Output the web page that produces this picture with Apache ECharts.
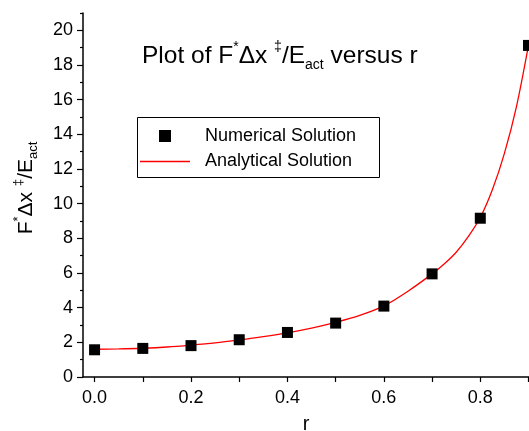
<!DOCTYPE html>
<html>
<head>
<meta charset="utf-8">
<script src="https://cdn.jsdelivr.net/npm/echarts@6/dist/echarts.min.js"></script>
<style>
  html, body { margin: 0; padding: 0; background: #fff; }
  #main { width: 529px; height: 431px; }
</style>
</head>
<body>
<div id="main"></div>
<script>
// numerical solution (squares)
const rPoints = [0, 0.1, 0.2, 0.3, 0.4, 0.5, 0.6, 0.7, 0.8, 0.9];
const numerical = [1.57, 1.65, 1.81, 2.15, 2.57, 3.11, 4.09, 5.95, 9.16, 19.13];

// analytical solution (red curve)
const rCurve = [0, 0.05, 0.1, 0.15, 0.2, 0.25, 0.3, 0.35, 0.4, 0.45, 0.5, 0.55, 0.6, 0.65, 0.7, 0.725, 0.75, 0.775, 0.8, 0.825, 0.85, 0.875, 0.9];
const analytical = [1.60, 1.62, 1.66, 1.73, 1.84, 1.97, 2.14, 2.33, 2.55, 2.82, 3.15, 3.55, 4.10, 4.95, 5.95, 6.52, 7.20, 8.10, 9.20, 10.8, 12.9, 15.6, 19.15];

// ticks
const xTicks = [0, 0.1, 0.2, 0.3, 0.4, 0.5, 0.6, 0.7, 0.8, 0.9];
const xLabels = [0, 0.2, 0.4, 0.6, 0.8];
const yMajor = [0, 2, 4, 6, 8, 10, 12, 14, 16, 18, 20];
const yMinor = [1, 3, 5, 7, 9, 11, 13, 15, 17, 19, 21];

const FONT = "'Liberation Sans', Arial, sans-serif";

const chart = echarts.init(document.getElementById('main'), null, { renderer: 'canvas' });

const option = {
  backgroundColor: '#fff',
  animation: false,
  title: {
    text: '{m|Plot of F}{p|*}{m|Δx }{p|‡}{m|/E}{s|act}{m| versus r}',
    left: 142,
    top: 40,
    padding: 0,
    textStyle: {
      fontWeight: 'normal',
      rich: {
        m: { fontSize: 24.5, lineHeight: 32, color: '#000', fontFamily: FONT, fontWeight: 'normal' },
        p: { fontSize: 14, lineHeight: 14, color: '#000', fontFamily: FONT, fontWeight: 'normal', verticalAlign: 'top' },
        s: { fontSize: 14, lineHeight: 14, color: '#000', fontFamily: FONT, fontWeight: 'normal', verticalAlign: 'bottom' }
      }
    }
  },
  legend: [{
    data: [{ name: 'Numerical Solution', icon: 'rect' }],
    left: 159,
    top: 127,
    itemWidth: 12,
    itemHeight: 12,
    padding: 0,
    textStyle: { fontSize: 18, color: '#000', fontFamily: FONT, padding: [0, 0, 0, 29] }
  }, {
    data: [{ name: 'Analytical Solution', icon: 'rect' }],
    left: 140,
    top: 152.5,
    itemWidth: 50,
    itemHeight: 1.3,
    padding: 0,
    textStyle: { fontSize: 18, color: '#000', fontFamily: FONT, padding: [0, 0, 0, 10] }
  }],
  graphic: [{
    type: 'rect',
    shape: { x: 137.5, y: 117.5, width: 242, height: 60 },
    style: { fill: null, stroke: '#000', lineWidth: 1 },
    silent: true
  }],
  grid: { left: 83, right: 0, top: 13, bottom: 54, outerBoundsMode: 'none' },
  xAxis: {
    type: 'value',
    min: -0.024,
    max: 0.901,
    name: 'r',
    nameLocation: 'middle',
    nameGap: 37,
    nameTextStyle: { fontSize: 20, color: '#000', fontFamily: FONT },
    axisLine: { onZero: false, lineStyle: { color: '#000', width: 1.5 } },
    axisTick: { customValues: xTicks, length: 5, lineStyle: { color: '#000', width: 1.2 } },
    axisLabel: {
      customValues: xLabels,
      formatter: v => v.toFixed(1),
      fontSize: 18, color: '#000', fontFamily: FONT, margin: 12
    },
    splitLine: { show: false }
  },
  yAxis: [{
    type: 'value',
    min: 0,
    max: 21,
    name: '{m|F}{p|*}{m|Δx }{p|‡}{m|/E}{s|act}',
    nameLocation: 'middle',
    nameGap: 43,
    nameTextStyle: {
      padding: [0, 0, 0, 14],
      rich: {
        m: { fontSize: 21, lineHeight: 28, color: '#000', fontFamily: FONT },
        p: { fontSize: 13, lineHeight: 13, color: '#000', fontFamily: FONT, verticalAlign: 'top' },
        s: { fontSize: 13, lineHeight: 13, color: '#000', fontFamily: FONT, verticalAlign: 'bottom' }
      }
    },
    axisLine: { show: true, onZero: false, lineStyle: { color: '#000', width: 1.5 } },
    axisTick: { show: true, customValues: yMajor, length: 6, lineStyle: { color: '#000', width: 1.2 } },
    axisLabel: { customValues: yMajor, fontSize: 18, color: '#000', fontFamily: FONT, margin: 10 },
    splitLine: { show: false }
  }, {
    type: 'value',
    min: 0,
    max: 21,
    position: 'left',
    axisLine: { show: false, onZero: false },
    axisTick: { show: true, customValues: yMinor, length: 3, lineStyle: { color: '#000', width: 1.2 } },
    axisLabel: { show: false },
    splitLine: { show: false }
  }],
  series: [{
    name: 'Numerical Solution',
    type: 'scatter',
    symbol: 'rect',
    symbolSize: 11,
    itemStyle: { color: '#000', opacity: 1 },
    z: 3,
    data: rPoints.map((r, i) => [r, numerical[i]])
  }, {
    name: 'Analytical Solution',
    type: 'line',
    smooth: 0.3,
    symbol: 'none',
    lineStyle: { color: '#ff0000', width: 1.3 },
    itemStyle: { color: '#ff0000' },
    z: 2,
    data: rCurve.map((r, i) => [r, analytical[i]])
  }]
};

chart.setOption(option);
</script>
</body>
</html>
